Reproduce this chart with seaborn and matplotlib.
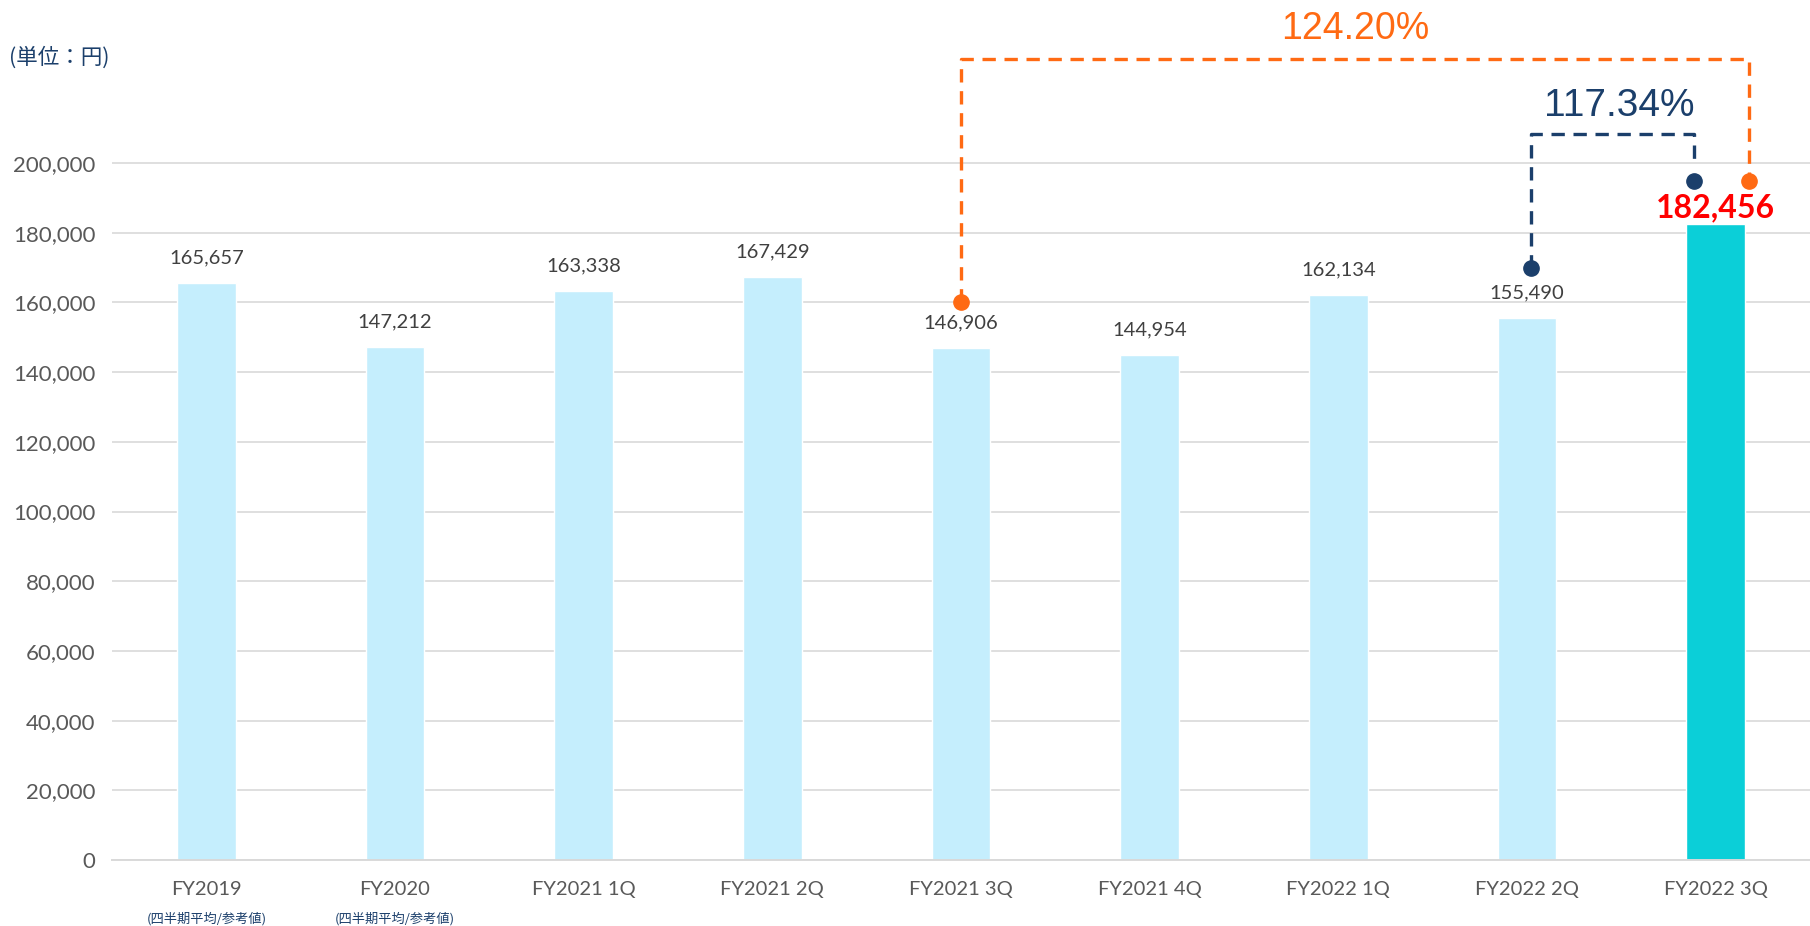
import matplotlib
matplotlib.use("Agg")

import matplotlib.pyplot as plt
import seaborn as sns

# ---------------------------- DATA -----------------------------------

CATEGORIES = ["FY2019", "FY2020", "FY2021 1Q", "FY2021 2Q", "FY2021 3Q",
              "FY2021 4Q", "FY2022 1Q", "FY2022 2Q", "FY2022 3Q"]
VALUES = [165657, 147212, 163338, 167429, 146906, 144954, 162134, 155490, 182456]
SUB_LABELS = ["(四半期平均/参考値)", "(四半期平均/参考値)", "", "", "", "", "", "", ""]
Y_TICKS = [0, 20000, 40000, 60000, 80000, 100000, 120000, 140000, 160000, 180000, 200000]

UNIT_LABEL = "(単位：円)"
YOY_LABEL = "124.20%"   # FY2021 3Q -> FY2022 3Q
QOQ_LABEL = "117.34%"   # FY2022 2Q -> FY2022 3Q

# ---------------------------- STYLE ----------------------------------

LIGHT_BAR = "#C5EEFD"
HILITE_BAR = "#0BCFD8"
GRID_COL = "#D9D9D9"
TICK_COL = "#595959"
LABEL_COL = "#404040"
NAVY = "#1B3F6B"
ORANGE = "#FF6A13"
RED = "#FF0000"

MAIN_FONT = ["Lato", "DejaVu Sans"]
NARROW_FONT = ["Liberation Sans Narrow", "Liberation Sans", "DejaVu Sans"]
CJK_FONT = ["Noto Sans CJK JP", "DejaVu Sans"]


def main():
    sns.set_theme(style="white")
    plt.rcParams["font.family"] = MAIN_FONT

    fig = plt.figure(figsize=(18.1, 9.26), dpi=100)
    ax = fig.add_axes([112 / 1810, 66 / 926, 1 - 112 / 1810, 1 - 66 / 926])

    colors = [LIGHT_BAR] * (len(CATEGORIES) - 1) + [HILITE_BAR]
    sns.barplot(x=CATEGORIES, y=VALUES, hue=CATEGORIES, palette=colors,
                width=0.31, legend=False, saturation=1, ax=ax)

    ax.set_xlim(-0.5, len(CATEGORIES) - 0.5)
    ax.set_ylim(0, 246800)
    ax.set_yticks(Y_TICKS)
    ax.set_yticklabels([f"{v:,}" for v in Y_TICKS])
    ax.yaxis.grid(True, color=GRID_COL, linewidth=1.2)
    ax.set_axisbelow(True)
    for side in ["left", "right", "top"]:
        ax.spines[side].set_visible(False)
    ax.spines["bottom"].set_color(GRID_COL)
    ax.spines["bottom"].set_linewidth(1.4)
    ax.tick_params(axis="y", length=0, pad=12, labelsize=16, labelcolor=TICK_COL)
    ax.tick_params(axis="x", length=0, pad=15, labelsize=14.5, labelcolor=TICK_COL)
    ax.set_xlabel("")
    ax.set_ylabel("")

    # sub labels under the x ticks
    for i, sub in enumerate(SUB_LABELS):
        if sub:
            ax.annotate(sub, xy=(i, 0), xycoords=("data", "axes fraction"),
                        xytext=(0, -42), textcoords="offset points",
                        ha="center", va="center", fontsize=9.5, color=NAVY,
                        family=CJK_FONT)

    # value labels
    for i, v in enumerate(VALUES):
        if i == len(VALUES) - 1:
            ax.annotate(f"{v:,}", xy=(i, v), xytext=(0, 12), textcoords="offset points",
                        ha="center", va="center", fontsize=23, fontweight="bold",
                        color=RED)
        else:
            ax.annotate(f"{v:,}", xy=(i, v), xytext=(0, 18), textcoords="offset points",
                        ha="center", va="center", fontsize=14.5, color=LABEL_COL)

    # unit label
    fig.text(9 / 1810, 1 - 58 / 926, UNIT_LABEL, ha="left", va="center",
             fontsize=15.5, color=NAVY, family=CJK_FONT)

    # growth brackets
    dash = (0, (4, 2.6))
    # FY2021 3Q -> FY2022 3Q
    ax.plot([4, 4, 8.175, 8.175], [160000, 230000, 230000, 195000],
            color=ORANGE, lw=2.4, linestyle=dash, zorder=3)
    ax.plot([4, 8.175], [160000, 195000], "o", color=ORANGE, ms=11, zorder=4)
    ax.text(6.09, 238600, YOY_LABEL, ha="center", va="center", fontsize=27,
            color=ORANGE, family=NARROW_FONT)
    # FY2022 2Q -> FY2022 3Q
    ax.plot([7.02, 7.02, 7.885, 7.885], [170000, 208300, 208300, 199000],
            color=NAVY, lw=2.4, linestyle=dash, zorder=3)
    ax.plot([7.02, 7.885], [170000, 195000], "o", color=NAVY, ms=11, zorder=4)
    ax.text(7.49, 216500, QOQ_LABEL, ha="center", va="center", fontsize=28,
            color=NAVY, family=NARROW_FONT)

    fig.savefig("out.png", dpi=100)
    plt.close(fig)


if __name__ == "__main__":
    main()
